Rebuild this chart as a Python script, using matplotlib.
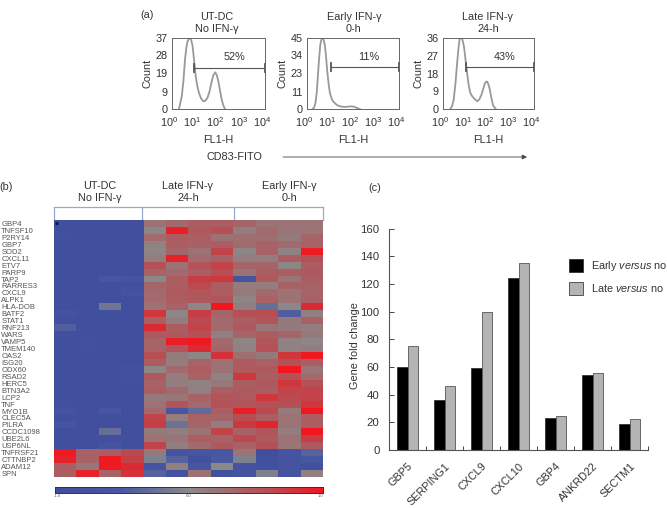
"""
Figure: CD83 histograms (a), gene heatmap (b), gene fold change bars (c)
"""

import matplotlib
matplotlib.use('Agg')
import matplotlib.pyplot as plt
from matplotlib.colors import LinearSegmentedColormap
from matplotlib.patches import Patch
from matplotlib.transforms import ScaledTranslation
import numpy as np

plt.rcParams['font.family'] = ['Liberation Sans', 'DejaVu Sans']
plt.rcParams['mathtext.fontset'] = 'custom'
plt.rcParams['mathtext.rm'] = 'Liberation Sans'
plt.rcParams['mathtext.it'] = 'Liberation Sans:italic'
plt.rcParams['text.color'] = '#333333'
plt.rcParams['axes.labelcolor'] = '#333333'
plt.rcParams['xtick.labelcolor'] = '#333333'
plt.rcParams['ytick.labelcolor'] = '#333333'

# Histogrammes (a)
hist1_x = [2.05, 2.7, 3.2, 3.7, 4.2, 4.7, 5.4, 6.1, 7, 7.9, 9.2, 10.7, 12.5, 14.8, 18, 22.8,
           28, 33.9, 42, 51.8, 62, 74, 86, 100, 118, 139, 165, 193]
hist1_y = [0, 6.6, 15, 25.5, 31.5, 35, 36.6, 37, 35.6, 32.6, 25, 17, 12, 8.3, 5.6, 4,
           4.4, 5.7, 9.2, 14.4, 17.8, 19.1, 17.6, 14.4, 9.6, 4.9, 1.8, 0]
hist2_x = [1.8, 2.1, 2.4, 2.75, 3.1, 3.5, 3.9, 4.4, 4.9, 5.5, 6.2, 7, 7.8, 9, 10.2, 12, 14, 18,
           23, 32, 45, 62, 87, 115, 144, 200]
hist2_y = [0, 1, 3.8, 11, 22.6, 33, 41, 44.2, 45, 43.5, 40, 32, 23.6, 15.5, 10, 6.6, 4.8, 3.2,
           2.1, 1.5, 1.3, 1.5, 1.7, 1.4, 0.8, 0]
hist3_x = [2.1, 2.5, 2.95, 3.5, 4.15, 4.8, 5.4, 6.6, 7.4, 8.4, 10, 11.5, 13.5, 16, 20, 25, 32,
           40, 49, 58, 69, 78, 87, 100, 115, 137, 160, 210]
hist3_y = [0, 1.4, 4.7, 12.5, 23, 31, 35.7, 36, 34.5, 31.5, 24, 18, 12, 8, 6.2, 5, 3.9,
           5, 7.2, 10, 13, 13.8, 13.9, 12.4, 9.7, 5, 1.7, 0]
hist_ticks = [[0, 9, 19, 28, 37], [0, 11, 23, 34, 45], [0, 9, 18, 27, 36]]
gate_start = [9.4, 10.8, 10.7]
gate_y = [21.4, 26.6, 21.3]
gate_text = ['52%', '11%', '43%']

# Heatmap (b)
genes = ['GBP4', 'TNFSF10', 'P2RY14', 'GBP7', 'SOD2', 'CXCL11', 'ETV7', 'PARP9', 'TAP2',
         'RARRES3', 'CXCL9', 'ALPK1', 'HLA-DOB', 'BATF2', 'STAT1', 'RNF213', 'WARS', 'VAMP5',
         'TMEM140', 'OAS2', 'ISG20', 'ODX60', 'RSAD2', 'HERC5', 'BTN3A2', 'LCP2', 'TNF',
         'MYO1B', 'CLEC5A', 'PILRA', 'CCDC1098', 'UBE2L6', 'USP6NL', 'TNFRSF21', 'CTTNBP2',
         'ADAM12', 'SPN']
heat = [
    [.03, .03, .03, .03, .62, .66, .72, .72, .68, .60, .62, .62],
    [.04, .03, .03, .03, .52, .96, .74, .78, .56, .66, .60, .60],
    [.07, .03, .03, .04, .66, .72, .72, .62, .64, .64, .58, .68],
    [.03, .03, .03, .05, .54, .72, .70, .72, .66, .70, .66, .70],
    [.03, .06, .06, .04, .53, .68, .62, .84, .52, .70, .54, .97],
    [.04, .03, .03, .05, .56, .95, .66, .70, .56, .56, .72, .78],
    [.03, .03, .04, .07, .78, .62, .76, .84, .68, .68, .52, .72],
    [.03, .03, .03, .04, .70, .66, .72, .80, .62, .72, .72, .74],
    [.05, .03, .22, .14, .50, .72, .86, .88, .18, .74, .60, .72],
    [.03, .03, .03, .04, .68, .72, .82, .72, .56, .56, .70, .70],
    [.03, .03, .04, .12, .66, .74, .76, .72, .58, .66, .62, .68],
    [.05, .03, .06, .04, .66, .72, .74, .76, .52, .70, .62, .70],
    [.03, .03, .40, .03, .62, .70, .52, .99, .56, .36, .52, .92],
    [.12, .08, .03, .03, .88, .52, .86, .68, .78, .80, .28, .55],
    [.03, .03, .03, .03, .72, .56, .82, .66, .72, .76, .58, .70],
    [.28, .03, .03, .03, .92, .72, .84, .66, .74, .60, .58, .56],
    [.03, .03, .03, .03, .74, .74, .78, .55, .68, .72, .68, .58],
    [.03, .09, .04, .03, .68, .96, .98, .66, .52, .76, .54, .52],
    [.03, .09, .04, .03, .70, .76, .92, .68, .54, .78, .54, .56],
    [.03, .03, .03, .03, .80, .58, .52, .90, .64, .58, .88, .98],
    [.03, .03, .06, .03, .72, .56, .68, .62, .74, .70, .78, .72],
    [.03, .03, .03, .10, .52, .66, .72, .62, .74, .74, .99, .60],
    [.03, .03, .03, .07, .74, .56, .70, .54, .88, .72, .78, .66],
    [.03, .03, .03, .07, .70, .56, .54, .58, .72, .74, .88, .78],
    [.03, .03, .03, .05, .72, .66, .55, .72, .74, .72, .84, .84],
    [.05, .03, .03, .04, .58, .60, .70, .76, .74, .88, .82, .84],
    [.08, .03, .03, .03, .62, .76, .66, .78, .76, .78, .78, .88],
    [.12, .03, .22, .03, .66, .22, .34, .72, .96, .82, .58, .99],
    [.06, .03, .07, .03, .84, .56, .70, .68, .80, .72, .62, .72],
    [.14, .03, .05, .03, .86, .38, .68, .56, .88, .94, .60, .72],
    [.04, .03, .36, .03, .58, .56, .62, .84, .70, .76, .56, .99],
    [.03, .03, .05, .03, .62, .60, .72, .68, .82, .74, .62, .86],
    [.03, .03, .14, .03, .84, .56, .66, .74, .70, .78, .60, .74],
    [.98, .70, .72, .82, .58, .15, .20, .20, .62, .05, .15, .30],
    [.95, .70, .98, .85, .45, .30, .08, .25, .45, .08, .15, .20],
    [.72, .60, .98, .92, .15, .55, .20, .50, .12, .08, .15, .08],
    [.72, .95, .70, .90, .30, .12, .62, .08, .12, .45, .12, .55],
]
groupes = ['UT-DC\nNo IFN-γ', 'Late IFN-γ\n24-h', 'Early IFN-γ\n0-h']

# Barres (c)
categories = ['GBP5', 'SERPING1', 'CXCL9', 'CXCL10', 'GBP4', 'ANKRD22', 'SECTM1']
early = [60, 36, 59, 124, 23, 54, 18.5]
late = [75.5, 46.5, 99.5, 135, 24.5, 56, 22.5]

W, H = 667, 508
fig = plt.figure(figsize=(W / 100, H / 100), dpi=100)


def box(left, top, right, bottom):
    # pixels de l'image -> coordonnées de la figure
    return [left / W, 1 - bottom / H, (right - left) / W, (bottom - top) / H]


def label(x, y, s, **kw):
    kw.setdefault('ha', 'center')
    kw.setdefault('va', 'center')
    kw.setdefault('fontsize', 7.8)
    fig.text(x / W, 1 - y / H, s, **kw)


def shift_left(labels, px):
    # décale les étiquettes de quelques pixels vers la gauche
    for t in labels:
        t.set_transform(t.get_transform() + ScaledTranslation(-px / 100, 0, fig.dpi_scale_trans))


# (a) histogrammes
positions = [(171.7, 265), (306.7, 399), (443, 534)]
curves = [(hist1_x, hist1_y), (hist2_x, hist2_y), (hist3_x, hist3_y)]
for i, (l, r) in enumerate(positions):
    ax = fig.add_axes(box(l, 38, r, 109))
    ax.plot(curves[i][0], curves[i][1], color='#999999', lw=1.3)
    ax.set_xscale('log')
    ax.set_xlim(1, 10000)
    ax.set_ylim(0, hist_ticks[i][-1])
    ax.set_xticks([1, 10, 100, 1000, 10000])
    ax.minorticks_off()
    ax.set_yticks(hist_ticks[i])
    ax.tick_params(labelsize=7.8, length=0, pad=3)
    ax.tick_params(axis='x', pad=4.5)
    shift_left(ax.get_xticklabels(), 3)
    for s in ax.spines.values():
        s.set_linewidth(0.7)
        s.set_color('#666666')
    ax.set_xlabel('FL1-H', fontsize=7.8, labelpad=4)
    ax.set_ylabel('Count', fontsize=7.8, labelpad=2)
    # porte
    ax.plot([gate_start[i], 10000], [gate_y[i], gate_y[i]], color='#555555', lw=0.8)
    ax.plot([gate_start[i]] * 2, [gate_y[i] * 0.9, gate_y[i] * 1.1], color='#555555', lw=1.3)
    ax.plot([10000, 10000], [gate_y[i] * 0.9, gate_y[i] * 1.1], color='#555555', lw=1.3,
            clip_on=False)
    ax.text(10 ** 2.7, 0.73, gate_text[i], fontsize=7.8, ha='center', va='center',
            transform=ax.get_xaxis_transform())

label(147, 15, '(a)')
label(217, 23, 'UT-DC\nNo IFN-γ', linespacing=1.35)
label(354, 23, 'Early IFN-γ\n0-h', linespacing=1.35)
label(488, 23, 'Late IFN-γ\n24-h', linespacing=1.35)
label(234, 157, 'CD83-FITO')

fond = fig.add_axes([0, 0, 1, 1], zorder=-1)
fond.set_xlim(0, W)
fond.set_ylim(H, 0)
fond.axis('off')
fond.annotate('', xy=(527, 157), xytext=(283, 157),
              arrowprops=dict(arrowstyle='-|>', color='#444444', lw=0.6, mutation_scale=7,
                              shrinkA=0, shrinkB=0))

# (b) heatmap
cmap = LinearSegmentedColormap.from_list(
    'bgr', [(0, '#3f4e9e'), (0.25, '#4a58a2'), (0.5, '#8a8a8a'), (0.82, '#bb4a50'), (1, '#f5141c')])
ax = fig.add_axes(box(54, 220, 323, 477))
ax.imshow(np.array(heat), cmap=cmap, vmin=0, vmax=1, aspect='auto', interpolation='nearest')
ax.set_xticks([])
ax.set_yticks(range(len(genes)))
ax.set_yticklabels(genes, fontsize=5.5, ha='left', color='#555555')
ax.tick_params(axis='y', length=0, pad=38)
for s in ax.spines.values():
    s.set_visible(False)
ax.plot([-0.45, -0.3], [0, 0], color='#101a50', lw=2.2, solid_capstyle='butt')
ax.set_xlim(-0.5, 11.5)

# crochets au-dessus de la heatmap
fond.plot([54, 323], [207, 207], color='#9aa8cc', lw=0.9)
for x in [54, 142, 234, 323]:
    fond.plot([x, x], [207, 220], color='#9aa8cc', lw=0.9)
label(6, 187, '(b)')
label(100, 192, groupes[0], linespacing=1.35)
label(188, 192, groupes[1], linespacing=1.35)
label(289, 192, groupes[2], linespacing=1.35)

# barre de couleurs
cb = fig.add_axes(box(55, 487, 323, 493))
cb.imshow(np.linspace(0, 1, 256).reshape(1, -1), cmap=cmap, aspect='auto', extent=[-1, 1, 0, 1])
cb.set_yticks([])
cb.set_xticks([-0.98, 0, 0.98])
cb.set_xticklabels(['-1.0', '0.0', '1.0'], fontsize=3, color='#555555')
cb.tick_params(axis='x', length=0, pad=0.5)
for s in cb.spines.values():
    s.set_linewidth(0.7)
    s.set_color('#333333')

# (c) barres
ax = fig.add_axes(box(389.3, 228.7, 648, 450))
x = np.arange(len(categories))
largeur = 0.29
ax.bar(x - largeur / 2, early, largeur, color='black', edgecolor='#222222', linewidth=0.5)
ax.bar(x + largeur / 2, late, largeur, color='#b4b4b4', edgecolor='#555555', linewidth=0.6)
ax.set_xlim(-0.5, 6.5)
ax.set_ylim(0, 160)
ax.set_yticks(range(0, 161, 20))
ax.set_xticks(x)
ax.set_xticklabels(categories, rotation=45, ha='right', rotation_mode='anchor', fontsize=7.8)
shift_left(ax.get_xticklabels(), 6)
ax.set_xticks(np.arange(-0.5, 6.6, 1), minor=True)
ax.tick_params(axis='x', which='major', length=0, pad=8)
ax.tick_params(axis='x', which='minor', length=3, direction='in', width=0.7, color='#444444')
ax.tick_params(axis='y', labelsize=8.2, direction='in', length=3.5, width=0.7, color='#444444', pad=7)
ax.set_ylabel('Gene fold change', fontsize=7.8, labelpad=0, y=0.47)
ax.spines['top'].set_visible(False)
ax.spines['right'].set_visible(False)
ax.spines['left'].set_color('#555555')
ax.spines['bottom'].set_color('#555555')
handles = [Patch(facecolor='black', edgecolor='#222222', lw=0.5),
           Patch(facecolor='#b4b4b4', edgecolor='#555555', lw=0.7)]
fig.legend(handles, ['Early $\\mathit{versus}$ no', 'Late $\\mathit{versus}$ no'], frameon=False,
           fontsize=7.8, handlelength=1.25, handleheight=1.5, handletextpad=0.8, labelspacing=0.75,
           loc='upper left', bbox_to_anchor=(566 / W, 1 - 256 / H), borderpad=0, borderaxespad=0.3)
label(375, 188, '(c)')

plt.savefig('out.png', dpi=100)
